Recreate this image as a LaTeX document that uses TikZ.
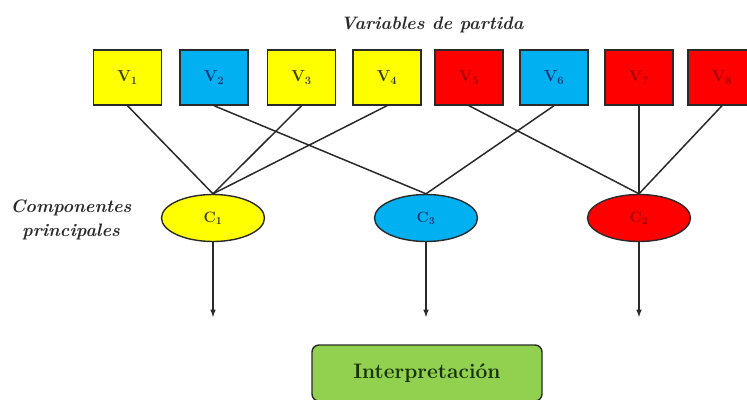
\documentclass[tikz,border=0pt]{standalone}
\usetikzlibrary{positioning}
\usetikzlibrary{shapes.geometric}
\definecolor{yel}{HTML}{FFFF00}
\definecolor{blu}{HTML}{00B0F0}
\definecolor{rd}{HTML}{FF0000}
\definecolor{grn}{HTML}{92D050}
\definecolor{inkyel}{HTML}{3A3A10}
\definecolor{inkblu}{HTML}{0B3A7A}
\definecolor{inkrd}{HTML}{A00000}
\definecolor{inkgrn}{HTML}{173300}
\definecolor{edge}{HTML}{2A2A2A}

\begin{document}
\begin{tikzpicture}[x=1pt,y=-1pt,
	var/.style={draw=edge, line width=1.4pt, minimum width=68pt, minimum height=55pt, font=\fontsize{16}{18}\selectfont\bfseries},
	comp/.style={ellipse, draw=edge, line width=1.4pt, minimum width=103pt, minimum height=47pt, inner sep=0pt, font=\fontsize{15}{17}\selectfont\bfseries},
	link/.style={edge, line width=1.5pt}]
	\useasboundingbox (0,0) rectangle (747,399);
	% variables
	\foreach\i/\x/\c/\t in {1/127.5/yel/inkyel,2/214/blu/inkblu,3/301.5/yel/inkyel,4/387/yel/inkyel,5/469/rd/inkrd,6/554/blu/inkblu,7/639/rd/inkrd,8/722/rd/inkrd}
		\node[var, fill=\c, text=\t] (v\i) at (\x,77.5) {V\textsubscript{\i}};
	\node[font=\fontsize{18}{20}\selectfont\bfseries\itshape, text=edge] (title) at (432,25) {Variables de partida};
	% componentes
	\node[comp, fill=yel, text=inkyel] (c1) at (213,218) {C\textsubscript{1}};
	\node[comp, fill=blu, text=inkblu] (c3) at (426,218) {C\textsubscript{3}};
	\node[comp, fill=rd, text=inkrd] (c2) at (639,218) {C\textsubscript{2}};
	\node[font=\fontsize{18}{24}\selectfont\bfseries\itshape, text=edge, align=center] (lab) at (71,220) {Componentes\\principales};
	\draw[link] (v1.south) -- (c1.north);
	\draw[link] (v3.south) -- (c1.north);
	\draw[link] (v4.south) -- (c1.north);
	\draw[link] (v2.south) -- (c3.north);
	\draw[link] (v6.south) -- (c3.north);
	\draw[link] (v5.south) -- (c2.north);
	\draw[link] (v7.south) -- (c2.north);
	\draw[link] (v8.south) -- (c2.north);
	% flechas
	\coordinate (e1) at (213,317);
	\coordinate (e3) at (426,317);
	\coordinate (e2) at (639,317);
	\draw[link, -latex] (c1) -- (e1);
	\draw[link, -latex] (c3) -- (e3);
	\draw[link, -latex] (c2) -- (e2);
	\node[draw=edge, line width=1.4pt, fill=grn, rounded corners=7pt, minimum width=230pt, minimum height=56pt, text=inkgrn, font=\fontsize{21}{23}\selectfont\bfseries] (interp) at (427,373) {Interpretación};
\end{tikzpicture}
\end{document}
